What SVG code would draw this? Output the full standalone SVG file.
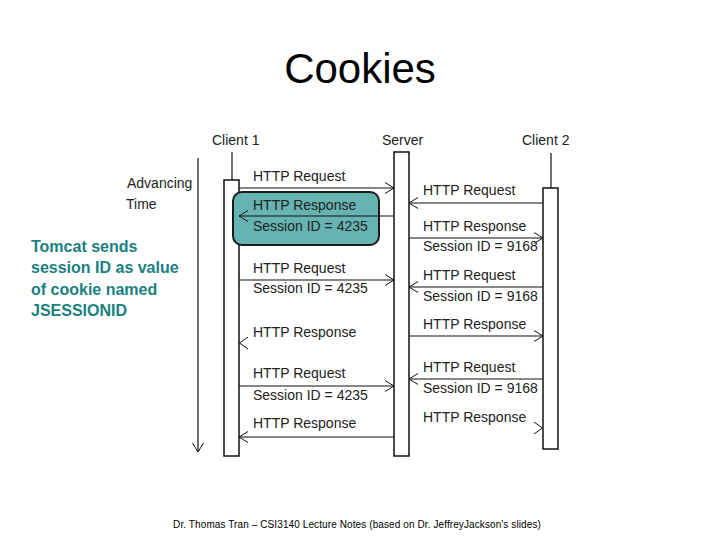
<svg xmlns="http://www.w3.org/2000/svg" width="720" height="540" viewBox="0 0 720 540">
<defs>
<style>
.t{font-family:"Liberation Sans",Arial,sans-serif;font-size:14px;fill:#222}
.life{fill:#fff;stroke:#111;stroke-width:1.5}
.ln{stroke:#111;stroke-width:1.2;fill:none}
.ah{stroke:#111;stroke-width:1;fill:none}
.note{font-family:"Liberation Sans",Arial,sans-serif;font-size:16px;font-weight:bold;fill:#1a8080}
</style>
<marker id="arr" viewBox="0 0 10 12" refX="10" refY="6" markerWidth="10" markerHeight="12" markerUnits="userSpaceOnUse" orient="auto">
<path d="M1,0.5 L10,6 L1,11.5" class="ah"/>
</marker>
</defs>
<rect width="720" height="540" fill="#fff"/>
<text x="360" y="83" text-anchor="middle" font-family="Liberation Sans,Arial,sans-serif" font-size="42" fill="#000">Cookies</text>

<g id="note">
<text class="note" x="31" y="252">Tomcat sends</text>
<text class="note" x="31" y="273">session ID as value</text>
<text class="note" x="31" y="295">of cookie named</text>
<text class="note" x="31" y="316">JSESSIONID</text>
</g>

<g id="time">
<text class="t" x="127" y="188">Advancing</text>
<text class="t" x="126" y="209">Time</text>
<line x1="198" y1="158" x2="198" y2="452" class="ln" marker-end="url(#arr)"/>
</g>

<g id="client1">
<text class="t" x="212" y="145">Client 1</text>
<line x1="232" y1="152" x2="232" y2="180" class="ln"/>
<rect x="224" y="180" width="15" height="276" class="life"/>
</g>
<g id="server">
<text class="t" x="382" y="145">Server</text>
<rect x="394" y="152" width="15" height="304" class="life"/>
</g>
<g id="client2">
<text class="t" x="522" y="145">Client 2</text>
<line x1="551" y1="153" x2="551" y2="188" class="ln"/>
<rect x="543" y="188" width="15" height="261" class="life"/>
</g>

<g id="highlight">
<rect x="233" y="192" width="146" height="53" rx="9" fill="#66b3b3" stroke="#1a1a1a" stroke-width="2"/>
</g>

<g id="connectors">
<line x1="239" y1="188" x2="394" y2="188" class="ln" marker-end="url(#arr)"/>
<line x1="394" y1="216" x2="239" y2="216" class="ln" marker-end="url(#arr)"/>
<line x1="543" y1="203" x2="409" y2="203" class="ln" marker-end="url(#arr)"/>
<line x1="409" y1="238" x2="543" y2="238" class="ln" marker-end="url(#arr)"/>
<line x1="239" y1="280" x2="394" y2="280" class="ln" marker-end="url(#arr)"/>
<line x1="543" y1="287" x2="409" y2="287" class="ln" marker-end="url(#arr)"/>
<path d="M248,337 L239.5,343 L248,349" class="ah"/>
<line x1="409" y1="336" x2="543" y2="336" class="ln" marker-end="url(#arr)"/>
<line x1="239" y1="386" x2="394" y2="386" class="ln" marker-end="url(#arr)"/>
<line x1="543" y1="379" x2="409" y2="379" class="ln" marker-end="url(#arr)"/>
<path d="M534,422 L542.5,428 L534,434" class="ah"/>
<line x1="394" y1="437" x2="239" y2="437" class="ln" marker-end="url(#arr)"/>
</g>

<g id="labels">
<text class="t" x="253" y="181">HTTP Request</text>
<text class="t" x="253" y="210">HTTP Response</text>
<text class="t" x="253" y="231">Session ID = 4235</text>
<text class="t" x="423" y="195">HTTP Request</text>
<text class="t" x="423" y="231">HTTP Response</text>
<text class="t" x="423" y="251">Session ID = 9168</text>
<text class="t" x="253" y="273">HTTP Request</text>
<text class="t" x="253" y="293">Session ID = 4235</text>
<text class="t" x="423" y="280">HTTP Request</text>
<text class="t" x="423" y="301">Session ID = 9168</text>
<text class="t" x="253" y="337">HTTP Response</text>
<text class="t" x="423" y="329">HTTP Response</text>
<text class="t" x="253" y="378">HTTP Request</text>
<text class="t" x="253" y="400">Session ID = 4235</text>
<text class="t" x="423" y="372">HTTP Request</text>
<text class="t" x="423" y="393">Session ID = 9168</text>
<text class="t" x="253" y="428">HTTP Response</text>
<text class="t" x="423" y="422">HTTP Response</text>
</g>

<text x="357" y="528" text-anchor="middle" font-family="Liberation Sans,Arial,sans-serif" font-size="10" letter-spacing="0.1" fill="#000">Dr. Thomas Tran – CSI3140 Lecture Notes (based on Dr. JeffreyJackson's slides)</text>
</svg>
